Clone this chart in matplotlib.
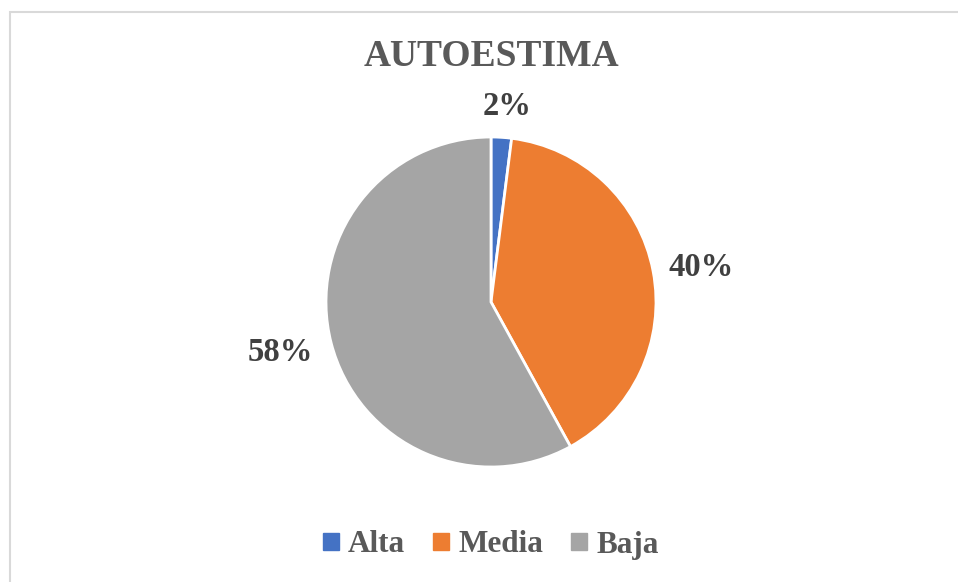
import matplotlib.pyplot as plt
from matplotlib.patches import Patch, Rectangle
import numpy as np

labels = ['Alta', 'Media', 'Baja']
values = [2, 40, 58]
colors = ['#4472C4', '#ED7D31', '#A5A5A5']
label_dist = [1.19, 1.29, 1.31]
label_shift = [-1.0, -1.6, -1.0]  # degrees, small nudge of the data labels

plt.rcParams['font.family'] = ['Liberation Serif', 'DejaVu Serif']
plt.rcParams['font.weight'] = 'bold'

W, H = 958, 582
fig = plt.figure(figsize=(W / 100, H / 100), dpi=100)

# chart border (cropped at right and bottom)
fig.patches.append(Rectangle((10 / W, -0.1), 1.2, 1 - 12 / H + 0.1, transform=fig.transFigure,
                             fill=False, edgecolor='#D9D9D9', linewidth=1.5))

cx, cy, r = 491, 302, 165
ax = fig.add_axes([(cx - r) / W, (H - cy - r) / H, 2 * r / W, 2 * r / H])
wedges, _ = ax.pie(values, colors=colors, startangle=90, counterclock=False,
                   radius=1, wedgeprops=dict(edgecolor='white', linewidth=2))
ax.set_xlim(-1, 1)
ax.set_ylim(-1, 1)
ax.set_aspect('equal')

total = sum(values)
for w, v, d, s in zip(wedges, values, label_dist, label_shift):
    ang = np.deg2rad((w.theta1 + w.theta2) / 2 + s)
    ax.text(d * np.cos(ang), d * np.sin(ang), f'{v / total:.0%}', ha='center', va='center',
            fontsize=23.5, fontweight='bold', color='#404040', clip_on=False)

fig.text(cx / W, 1 - 56 / H, 'AUTOESTIMA', ha='center', va='center',
         fontsize=27, fontweight='bold', color='#595959')

handles = [Patch(facecolor=c, edgecolor=c) for c in colors]
fig.legend(handles, labels, loc='center', bbox_to_anchor=(cx / W, 1 - 545 / H), ncol=3,
           frameon=False, fontsize=22.5, labelcolor='#595959', handlelength=0.5,
           handleheight=0.5, handletextpad=0.3, columnspacing=0.9)

fig.savefig('out.png', dpi=100)
